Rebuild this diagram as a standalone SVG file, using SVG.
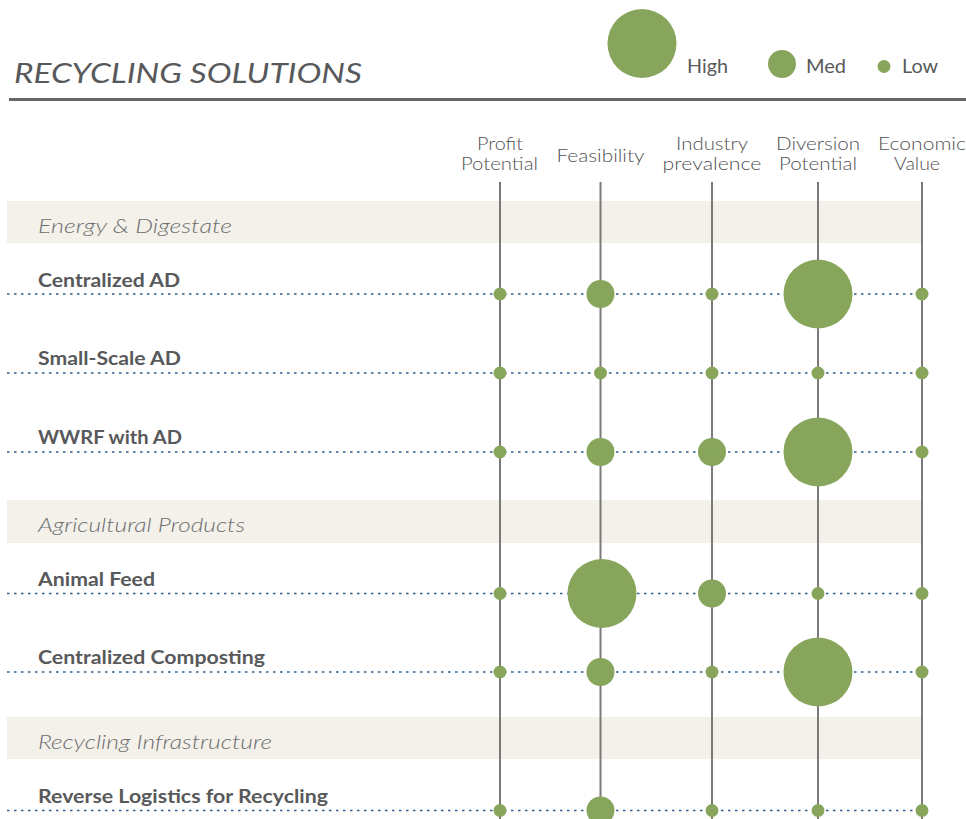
<svg xmlns="http://www.w3.org/2000/svg" width="966" height="819" viewBox="0 0 966 819">
<style>
text{font-family:"Lato","Liberation Sans",sans-serif;fill:#58595b}
.title{font-size:27px;font-style:italic;font-weight:400}
.leg{font-size:19px;font-weight:400}
.hdr{font-size:18px;font-weight:300;text-anchor:middle;fill:#505153}
.cat{font-size:20px;font-style:italic;font-weight:300;fill:#6d6e70}
.row{font-size:19px;font-weight:700}
.band{fill:#f3f1ea}
.vline{stroke:#7a7a7a;stroke-width:2}
.dot{stroke:#2f5f8f;stroke-width:1.6;stroke-dasharray:2.5 4.5}
.c{fill:#88a65b}
</style>
<rect width="966" height="819" fill="#ffffff"/>
<g id="title">
<text class="title" x="14" y="83" textLength="348" lengthAdjust="spacingAndGlyphs">RECYCLING SOLUTIONS</text>
<line x1="9" y1="99.5" x2="966" y2="99.5" stroke="#666" stroke-width="3"/>
</g>
<g id="legend">
<circle class="c" cx="642" cy="43.5" r="34.5"/>
<text class="leg" x="687" y="73" textLength="41" lengthAdjust="spacingAndGlyphs">High</text>
<circle class="c" cx="782" cy="64" r="14"/>
<text class="leg" x="806" y="73" textLength="40" lengthAdjust="spacingAndGlyphs">Med</text>
<circle class="c" cx="884" cy="66.5" r="6.5"/>
<text class="leg" x="902" y="73" textLength="36" lengthAdjust="spacingAndGlyphs">Low</text>
</g>
<g id="column-headers">
<text class="hdr" x="500" y="149.5" textLength="46" lengthAdjust="spacingAndGlyphs">Profit</text>
<text class="hdr" x="499.5" y="170" textLength="77" lengthAdjust="spacingAndGlyphs">Potential</text>
<text class="hdr" x="600.5" y="161.5" textLength="88" lengthAdjust="spacingAndGlyphs">Feasibility</text>
<text class="hdr" x="712" y="149.5" textLength="72" lengthAdjust="spacingAndGlyphs">Industry</text>
<text class="hdr" x="712" y="170" textLength="99" lengthAdjust="spacingAndGlyphs">prevalence</text>
<text class="hdr" x="818" y="149.5" textLength="84" lengthAdjust="spacingAndGlyphs">Diversion</text>
<text class="hdr" x="818" y="170" textLength="78" lengthAdjust="spacingAndGlyphs">Potential</text>
<text class="hdr" x="922" y="149.5" textLength="88" lengthAdjust="spacingAndGlyphs">Economic</text>
<text class="hdr" x="917" y="170" textLength="46" lengthAdjust="spacingAndGlyphs">Value</text>
</g>
<g id="bands">
<rect class="band" x="7" y="201" width="915" height="42"/>
<rect class="band" x="7" y="500" width="915" height="43"/>
<rect class="band" x="7" y="717" width="915" height="42"/>
</g>
<g id="categories">
<text class="cat" x="38" y="233" textLength="194" lengthAdjust="spacingAndGlyphs">Energy &amp; Digestate</text>
<text class="cat" x="38" y="531.5" textLength="207" lengthAdjust="spacingAndGlyphs">Agricultural Products</text>
<text class="cat" x="38" y="748.5" textLength="234" lengthAdjust="spacingAndGlyphs">Recycling Infrastructure</text>
</g>
<g id="connectors">
<line class="vline" x1="500" y1="182" x2="500" y2="819"/>
<line class="vline" x1="600.5" y1="182" x2="600.5" y2="819"/>
<line class="vline" x1="712" y1="182" x2="712" y2="819"/>
<line class="vline" x1="818" y1="182" x2="818" y2="819"/>
<line class="vline" x1="922" y1="182" x2="922" y2="819"/>
<line class="dot" x1="7" y1="294" x2="922" y2="294"/>
<line class="dot" x1="7" y1="373" x2="922" y2="373"/>
<line class="dot" x1="7" y1="452" x2="922" y2="452"/>
<line class="dot" x1="7" y1="593.5" x2="922" y2="593.5"/>
<line class="dot" x1="7" y1="672" x2="922" y2="672"/>
<line class="dot" x1="7" y1="810.5" x2="922" y2="810.5"/>
</g>
<g id="row-centralized-ad">
<text class="row" x="38" y="287" textLength="142" lengthAdjust="spacingAndGlyphs">Centralized AD</text>
<circle class="c" cx="500" cy="294" r="6.5"/>
<circle class="c" cx="600.5" cy="294" r="14"/>
<circle class="c" cx="712" cy="294" r="6.5"/>
<circle class="c" cx="818" cy="294" r="34.5"/>
<circle class="c" cx="922" cy="294" r="6.5"/>
</g>
<g id="row-small-scale-ad">
<text class="row" x="38" y="365" textLength="143" lengthAdjust="spacingAndGlyphs">Small-Scale AD</text>
<circle class="c" cx="500" cy="373" r="6.5"/>
<circle class="c" cx="600.5" cy="373" r="6.5"/>
<circle class="c" cx="712" cy="373" r="6.5"/>
<circle class="c" cx="818" cy="373" r="6.5"/>
<circle class="c" cx="922" cy="373" r="6.5"/>
</g>
<g id="row-wwrf-with-ad">
<text class="row" x="38" y="444" textLength="144" lengthAdjust="spacingAndGlyphs">WWRF with AD</text>
<circle class="c" cx="500" cy="452" r="6.5"/>
<circle class="c" cx="600.5" cy="452" r="14"/>
<circle class="c" cx="712" cy="452" r="14"/>
<circle class="c" cx="818" cy="452" r="34.5"/>
<circle class="c" cx="922" cy="452" r="6.5"/>
</g>
<g id="row-animal-feed">
<text class="row" x="38" y="586" textLength="117" lengthAdjust="spacingAndGlyphs">Animal Feed</text>
<circle class="c" cx="500" cy="593.5" r="6.5"/>
<circle class="c" cx="602" cy="593.5" r="34.5"/>
<circle class="c" cx="712" cy="593.5" r="14"/>
<circle class="c" cx="818" cy="593.5" r="6.5"/>
<circle class="c" cx="922" cy="593.5" r="6.5"/>
</g>
<g id="row-centralized-composting">
<text class="row" x="38" y="664" textLength="227" lengthAdjust="spacingAndGlyphs">Centralized Composting</text>
<circle class="c" cx="500" cy="672" r="6.5"/>
<circle class="c" cx="600.5" cy="672" r="14"/>
<circle class="c" cx="712" cy="672" r="6.5"/>
<circle class="c" cx="818" cy="672" r="34.5"/>
<circle class="c" cx="922" cy="672" r="6.5"/>
</g>
<g id="row-reverse-logistics">
<text class="row" x="38" y="802.5" textLength="290" lengthAdjust="spacingAndGlyphs">Reverse Logistics for Recycling</text>
<circle class="c" cx="500" cy="810.5" r="6.5"/>
<circle class="c" cx="600.5" cy="810.5" r="14"/>
<circle class="c" cx="712" cy="810.5" r="6.5"/>
<circle class="c" cx="818" cy="810.5" r="6.5"/>
<circle class="c" cx="922" cy="810.5" r="6.5"/>
</g>
</svg>
